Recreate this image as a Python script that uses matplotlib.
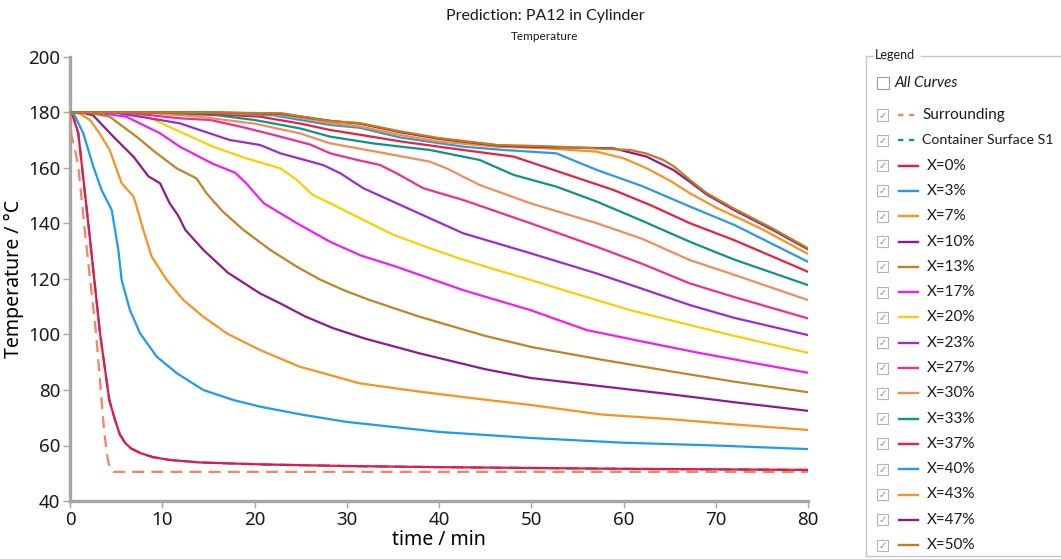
import matplotlib
matplotlib.use("Agg")
import matplotlib.pyplot as plt
from matplotlib.lines import Line2D
from matplotlib.patches import Rectangle

# ---- data (time in min, temperature in degC) ----
t_surr = [0, 0.15, 0.55, 0.9, 1.27, 1.63, 2.82, 3.72, 4.1, 4.35, 4.7, 80]
T_surr = [180, 172, 166.5, 160.5, 148.5, 136.5, 100.5, 64.5, 55, 51.5, 50.5, 50.5]

t_x0 = [0, 0.2, 0.9, 2.1, 3.25, 4.26, 4.88, 5.4, 5.96, 6.6, 7.6, 9, 10.8, 14, 20.6, 30, 40, 50, 60, 70, 80]
T_x0 = [180, 180, 172.5, 136.5, 100.5, 76.4, 69.2, 64, 61, 59, 57.3, 55.8, 54.8, 53.9, 53.2, 52.6, 52.2, 51.9, 51.6, 51.4, 51.2]

t_x3 = [0, 0.5, 1.44, 2.53, 3.43, 4.52, 5.24, 5.6, 6.5, 7.6, 9.4, 11.6, 14.45, 17.7, 20.6, 25, 30, 40, 50, 60, 70, 80]
T_x3 = [180, 179, 172.5, 160.5, 152, 144.9, 130.5, 119.6, 108.8, 100.4, 92, 86, 80, 76.4, 74, 71.2, 68.5, 64.9, 62.7, 61, 60, 58.7]

t_x7 = [0, 1, 2.17, 3.2, 4.3, 5.6, 6.9, 7.95, 8.86, 10.5, 12.3, 14.45, 17, 20.6, 24.9, 31.4, 37.9, 45, 50, 57.5, 65, 72, 80]
T_x7 = [180, 179.7, 177.3, 172.5, 166.5, 154.5, 149.7, 137.7, 128, 119.6, 112.4, 106.4, 100.4, 94.4, 88.4, 82.4, 79.4, 76.5, 74.6, 71.2, 69.5, 67.6, 65.6]

t_x10 = [0, 1.5, 2.5, 4.7, 6.9, 8.5, 9.76, 10.8, 11.7, 12.5, 14.45, 17.1, 20.6, 22.8, 25.5, 28.5, 32, 37.9, 45, 50, 57.5, 65, 72, 80]
T_x10 = [180, 179.8, 179, 171.3, 164, 157, 154.5, 147.3, 143, 137.7, 130.5, 122.3, 114.8, 111.2, 106.5, 102.3, 98.5, 93.2, 87.5, 84.3, 81.4, 78.5, 75.6, 72.5]

t_x13 = [0, 2, 4.3, 7.2, 9.4, 11.6, 13.7, 14.8, 16.5, 18.8, 21.7, 24.5, 27.1, 29.8, 32.5, 37.9, 45, 50, 57.5, 65, 72, 80]
T_x13 = [180, 179.9, 178.5, 171.3, 165.3, 159.8, 156.3, 150.9, 144.5, 137.7, 130.5, 124.6, 119.8, 115.8, 112.4, 106.4, 99.5, 95.5, 91, 86.8, 83, 79.2]

t_x17 = [0, 3, 6.1, 9.76, 12, 15.5, 17.9, 19.1, 21, 24.6, 28.2, 31.5, 35.4, 42.6, 49.9, 56, 62, 68, 74, 80]
T_x17 = [180, 179.9, 178.5, 172.5, 167.5, 161.5, 158.3, 154.5, 147.3, 140.1, 133.4, 128.5, 124.4, 116, 108.8, 101.6, 97.5, 93.5, 89.8, 86.2]

t_x20 = [0, 4, 7.95, 11.9, 15.5, 19.1, 22.8, 24.6, 26.3, 28.2, 31.8, 35, 39, 42.3, 46.3, 50, 53.5, 57.5, 60.7, 67.2, 72, 80]
T_x20 = [180, 180, 179.1, 173.1, 167.7, 163.5, 159.9, 155.7, 150.3, 147.3, 141.3, 136, 131.1, 127.3, 123.2, 119.6, 116, 112, 108.8, 103.4, 99.5, 93.4]

t_x23 = [0, 5, 9.76, 11.9, 17.3, 20.6, 22.8, 25, 27.5, 29.3, 31.8, 35.4, 39, 42.6, 49.9, 57.1, 62, 67.2, 72, 80]
T_x23 = [180, 179.9, 177.3, 176.1, 170.1, 168.3, 165.3, 163.3, 161, 158.1, 152.7, 147.3, 141.9, 136.5, 129.3, 122, 116.5, 110.6, 106, 99.8]

t_x27 = [0, 6, 11.9, 15.2, 19, 22.8, 26, 28.2, 31, 33.6, 35.4, 38.3, 42.6, 49.9, 57.1, 62, 67.2, 72, 80]
T_x27 = [180, 180, 177.9, 177.3, 174.5, 171.3, 168.5, 165.3, 163, 161.1, 158.1, 152.7, 148.5, 140.1, 131.6, 125.5, 118.4, 113.5, 105.8]

t_x30 = [0, 8, 14, 20, 24.9, 28.2, 33, 39, 40.8, 44.4, 49.9, 57.1, 62, 67.2, 72, 80]
T_x30 = [180, 180, 178.5, 176, 172.5, 168.9, 166, 162.3, 159.9, 153.9, 147.3, 140.1, 134.5, 126.8, 121.5, 112.4]

t_x33 = [0, 10, 16, 20, 24.9, 28.2, 33, 39, 44.4, 48.1, 52.7, 57.1, 62, 67.2, 72, 80]
T_x33 = [180, 180, 179, 177.3, 174.3, 171.3, 168.8, 166.5, 162.9, 157.5, 153.3, 147.9, 141, 133.4, 127, 117.8]

t_x37 = [0, 12, 20.6, 25, 28.2, 31.4, 36, 42.6, 48.1, 53.5, 58.9, 63, 67.2, 72, 80]
T_x37 = [180, 180, 178.5, 176, 173.7, 172, 169.5, 166.5, 164.1, 158.1, 152.1, 146.5, 140.1, 134, 122.6]

t_x40 = [0, 14, 22, 28.2, 31.4, 35.8, 42.6, 47, 52.7, 57.1, 62, 67.2, 72, 80]
T_x40 = [180, 180, 179, 175.5, 174.5, 171, 167.7, 166.5, 165.3, 159.3, 153.5, 146.1, 139.5, 126.2]

t_x43 = [0, 15, 23, 28.2, 31.4, 35.8, 40, 46.3, 52, 57.1, 60, 62.5, 65, 67.2, 70, 75, 80]
T_x43 = [180, 180, 179.2, 176.2, 175, 171.9, 169.5, 167.7, 167, 165.9, 163.5, 159.9, 155.5, 150.9, 145.8, 138, 129]

t_x47 = [0, 16, 23, 28.2, 31.4, 35.8, 40, 46.6, 52, 58.9, 62.5, 65.4, 67.2, 69, 71.9, 76, 80]
T_x47 = [180, 180, 179.5, 177, 176, 172.9, 170.5, 168, 167.5, 167.1, 164.1, 159.3, 155, 150.5, 145, 138, 130.7]

t_x50 = [0, 16, 23, 28.2, 31.4, 35.8, 40, 46.3, 52, 60.7, 62.5, 64.3, 65.5, 67.2, 69, 71.9, 76, 80]
T_x50 = [180, 180, 179.7, 176.9, 176.2, 173.2, 170.8, 168.3, 167.8, 166.5, 165.2, 162.9, 160.5, 155.7, 151, 145.5, 138.5, 131.1]

labels = ["Surrounding", "Container Surface S1", "X=0%", "X=3%", "X=7%", "X=10%",
          "X=13%", "X=17%", "X=20%", "X=23%", "X=27%", "X=30%", "X=33%",
          "X=37%", "X=40%", "X=43%", "X=47%", "X=50%"]
colors = ["#f4845f", "#0f9b8e", "#e8174b", "#1e9bf0", "#f7931e", "#8e1a8e",
          "#bf8424", "#f21df2", "#fbd000", "#9d2bd3", "#f02d91", "#f28b5d",
          "#0e9384", "#e8213f", "#2a98ef", "#f7931e", "#8e1a8e", "#bf7d1e"]

# the container surface curve lies under X=0% in the reference
curves = [(t_surr, T_surr), (t_x0, T_x0), (t_x0, T_x0), (t_x3, T_x3), (t_x7, T_x7),
          (t_x10, T_x10), (t_x13, T_x13), (t_x17, T_x17), (t_x20, T_x20),
          (t_x23, T_x23), (t_x27, T_x27), (t_x30, T_x30), (t_x33, T_x33),
          (t_x37, T_x37), (t_x40, T_x40), (t_x43, T_x43), (t_x47, T_x47),
          (t_x50, T_x50)]

W, H = 1061, 559


def fx(px):
    return px / W


def fy(py):
    return 1 - py / H


fig = plt.figure(figsize=(W / 100, H / 100), dpi=100)
ax = fig.add_axes([fx(70), fy(501), fx(808) - fx(70), fy(57) - fy(501)])

dash = (0, (5.4, 3.2))
for i, (lab, col, (t, T)) in enumerate(zip(labels, colors, curves)):
    ls = dash if i < 2 else "-"
    ax.plot(t, T, color=col, lw=1.6, ls=ls, zorder=3 + i, solid_joinstyle="round")

ax.set_xlim(0, 80)
ax.set_ylim(40, 200)
ax.set_xticks(range(0, 81, 10))
ax.set_yticks(range(40, 201, 20))
for s in ("top", "right"):
    ax.spines[s].set_visible(False)
for s in ("left", "bottom"):
    ax.spines[s].set_color("#a6a6a6")
    ax.spines[s].set_linewidth(2.4)
ax.tick_params(colors="#a6a6a6", labelcolor="#1a1a1a", length=5, width=1,
               labelsize=13.5, pad=2)
for lbl in ax.get_xticklabels() + ax.get_yticklabels():
    lbl.set_family("Noto Sans")
ax.set_xlabel("time / min", fontsize=14, family="Noto Sans", labelpad=1)
ax.set_ylabel("Temperature / °C", fontsize=14, family="Noto Sans", labelpad=3)

fig.text(fx(545), fy(16), "Prediction: PA12 in Cylinder", ha="center", va="center",
         fontsize=11.5, family="Lato", color="#1a1a1a")
fig.text(fx(545), fy(37), "Temperature", ha="center", va="center",
         fontsize=8.5, family="Lato", color="#1a1a1a")

# ---- legend group box, drawn like the app panel ----
box = "#c6c6c6"
fig.add_artist(Line2D([fx(866), fx(873)], [fy(56), fy(56)], color=box, lw=1))
fig.add_artist(Line2D([fx(921), fx(W)], [fy(56), fy(56)], color=box, lw=1))
fig.add_artist(Line2D([fx(866), fx(866)], [fy(56), fy(556)], color=box, lw=1))
fig.add_artist(Line2D([fx(866), fx(W)], [fy(556), fy(556)], color=box, lw=1))
fig.text(fx(875), fy(55), "Legend", ha="left", va="center", fontsize=9,
         family="Lato", color="#1a1a1a")

fig.add_artist(Rectangle((fx(877), fy(89)), fx(12), fy(0) - fy(12),
                         transform=fig.transFigure, fc="white", ec="#9a9a9a", lw=0.8))
fig.text(fx(895), fy(83), "All Curves", ha="left", va="center", fontsize=11,
         style="italic", family="Lato", color="#1a1a1a")

row0, step = 115, 25.3
for i, (lab, col) in enumerate(zip(labels, colors)):
    y = row0 + i * step
    fig.add_artist(Rectangle((fx(877), fy(y + 5.5)), fx(11), fy(0) - fy(11),
                             transform=fig.transFigure, fc="white", ec="#b4b4b4", lw=0.8))
    fig.text(fx(882.5), fy(y + 0.5), "\u2713", ha="center", va="center",
             fontsize=7, color="#8a8a8a", family="DejaVu Sans")
    if i < 2:
        fig.add_artist(Line2D([fx(898), fx(918)], [fy(y), fy(y)], color=col, lw=1.7,
                              ls=(0, (2.3, 2.3))))
        tx = 922
    else:
        fig.add_artist(Line2D([fx(899), fx(918)], [fy(y), fy(y)], color=col, lw=1.7))
        tx = 927
    fs = 10.2 if len(lab) > 15 else 11
    fig.text(fx(tx), fy(y), lab, ha="left", va="center", fontsize=fs,
             family="Lato", color="#1a1a1a")

fig.savefig("out.png", dpi=100)
